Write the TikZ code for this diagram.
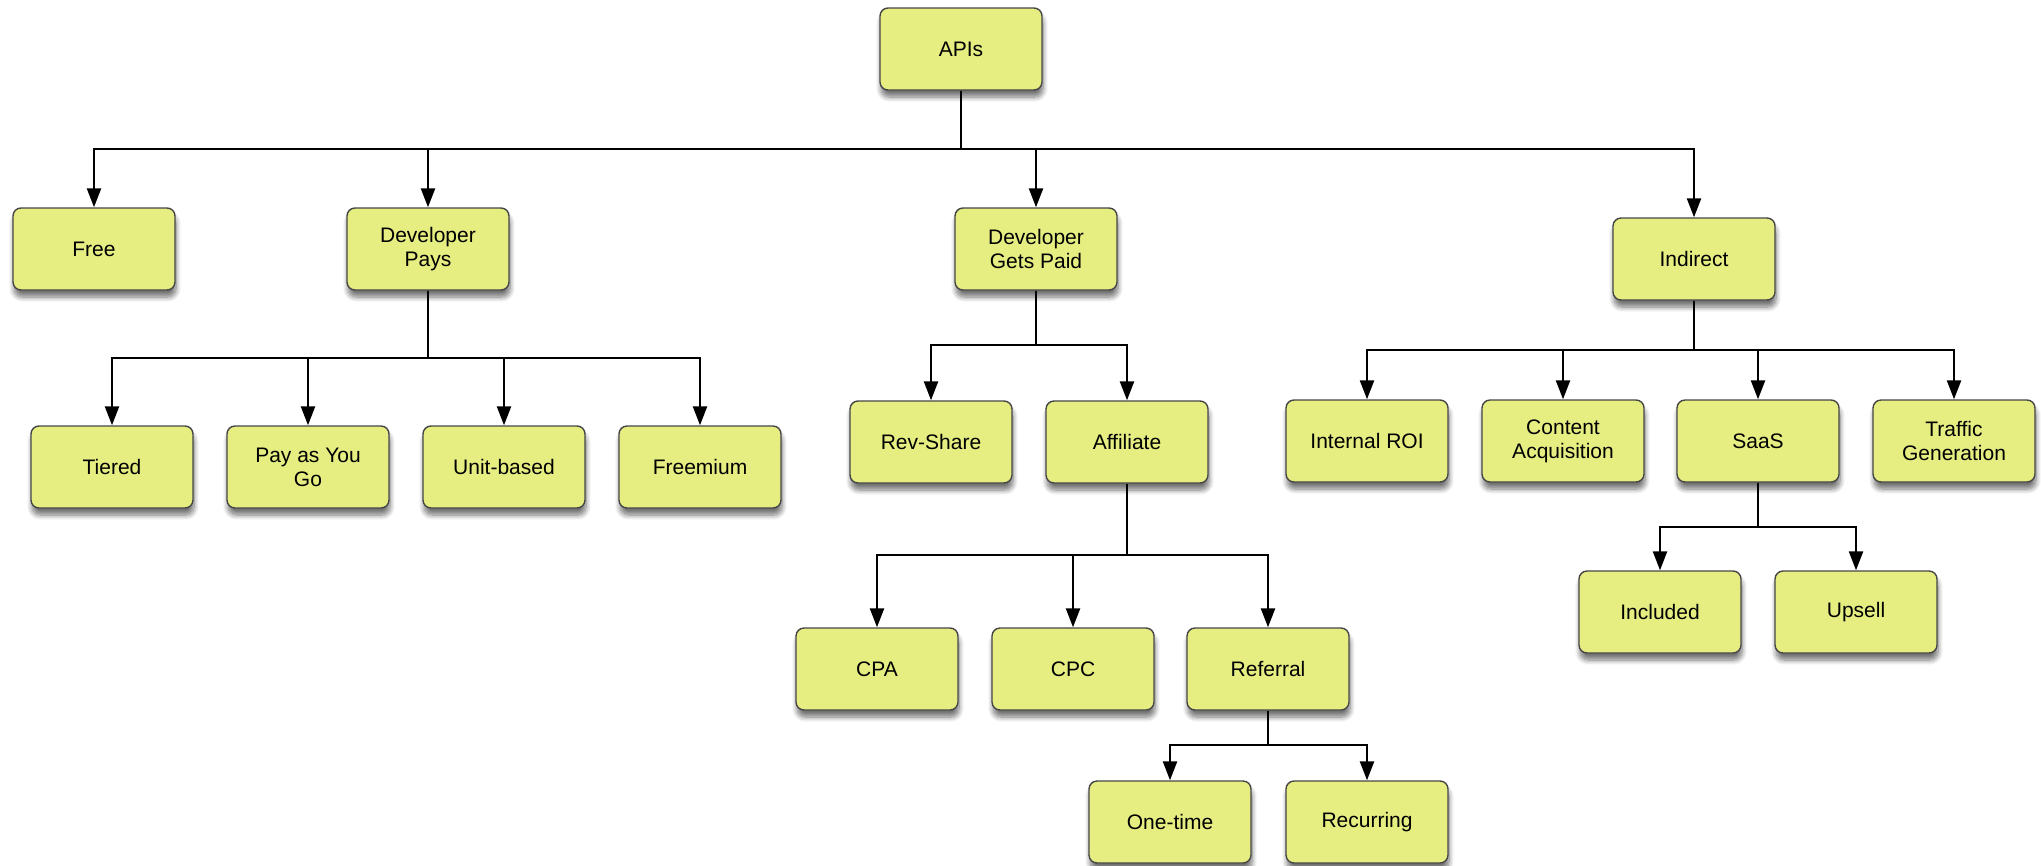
\documentclass[tikz,border=0pt]{standalone}
\usepackage{fontspec}
\setmainfont{Liberation Sans}
\usetikzlibrary{arrows.meta,shadows.blur}
\definecolor{boxfill}{RGB}{230,238,130}
\definecolor{boxline}{RGB}{70,70,70}
\tikzset{
  box/.style={draw=boxline, line width=1.4pt, fill=boxfill, rounded corners=8pt,
    minimum width=162pt, minimum height=82pt, inner sep=0pt, align=center,
    font=\fontsize{21}{24}\selectfont,
    blur shadow={shadow xshift=1pt, shadow yshift=-7pt, shadow blur steps=8,
      shadow blur radius=5pt, shadow opacity=55}},
  arr/.style={draw=black, line width=2.4pt, -{Triangle[length=19pt,width=14pt]}}
}
\begin{document}
\begin{tikzpicture}[x=1pt,y=-1pt]
\useasboundingbox (0,0) rectangle (2041,865);
% nodes
\node[box] (apis) at (961,49) {APIs};
\node[box] (free) at (94,249) {Free};
\node[box] (dp) at (428,249) {Developer\\Pays};
\node[box] (dgp) at (1036,249) {Developer\\Gets Paid};
\node[box] (ind) at (1694,259) {Indirect};
\node[box] (tier) at (112,467) {Tiered};
\node[box] (payg) at (308,467) {Pay as You\\Go};
\node[box] (unit) at (504,467) {Unit-based};
\node[box] (frem) at (700,467) {Freemium};
\node[box] (rev) at (931,442) {Rev-Share};
\node[box] (aff) at (1127,442) {Affiliate};
\node[box] (roi) at (1367,441) {Internal ROI};
\node[box] (cont) at (1563,441) {Content\\Acquisition};
\node[box] (saas) at (1758,441) {SaaS};
\node[box] (traf) at (1954,441) {Traffic\\Generation};
\node[box] (cpa) at (877,669) {CPA};
\node[box] (cpc) at (1073,669) {CPC};
\node[box] (ref) at (1268,669) {Referral};
\node[box] (one) at (1170,822) {One-time};
\node[box] (rec) at (1367,822) {Recurring};
\node[box] (inc) at (1660,612) {Included};
\node[box] (ups) at (1856,612) {Upsell};
% bus coordinates
\coordinate (b0) at (0,149);
\coordinate (b1) at (0,358);
\coordinate (b2) at (0,345);
\coordinate (b3) at (0,350);
\coordinate (b4) at (0,555);
\coordinate (b5) at (0,745);
\coordinate (b6) at (0,527);
% connectors
\foreach \c in {free,dp,dgp,ind}
  \draw[arr] (apis.south) -- (apis.south |- b0) -| (\c.north);
\foreach \c in {tier,payg,unit,frem}
  \draw[arr] (dp.south) -- (dp.south |- b1) -| (\c.north);
\foreach \c in {rev,aff}
  \draw[arr] (dgp.south) -- (dgp.south |- b2) -| (\c.north);
\foreach \c in {roi,cont,saas,traf}
  \draw[arr] (ind.south) -- (ind.south |- b3) -| (\c.north);
\foreach \c in {cpa,cpc,ref}
  \draw[arr] (aff.south) -- (aff.south |- b4) -| (\c.north);
\foreach \c in {one,rec}
  \draw[arr] (ref.south) -- (ref.south |- b5) -| (\c.north);
\foreach \c in {inc,ups}
  \draw[arr] (saas.south) -- (saas.south |- b6) -| (\c.north);
\end{tikzpicture}
\end{document}
